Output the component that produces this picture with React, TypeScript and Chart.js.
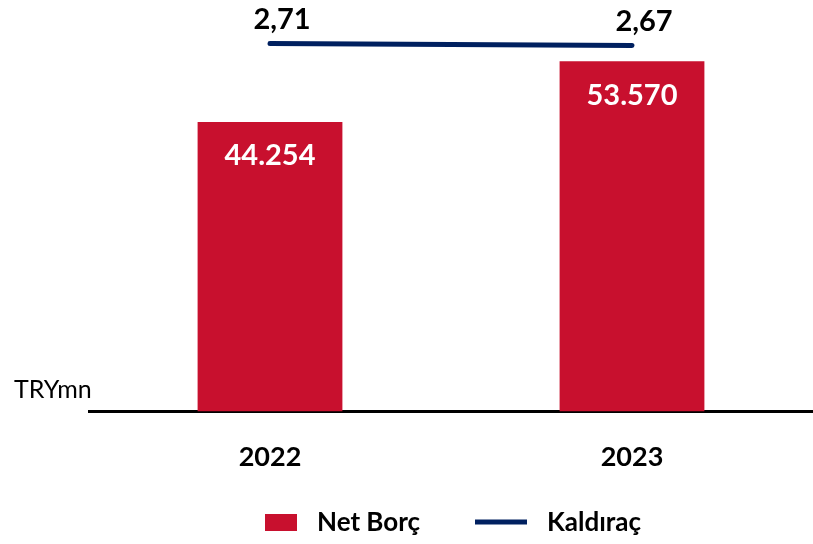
import React, { useEffect, useRef } from "react";
import { Chart, registerables } from "chart.js";

Chart.register(...registerables);

const categories = ["2022", "2023"];
const netBorc = [44254, 53570];
const kaldirac = [2.71, 2.67];
const netBorcLabels = ["44.254", "53.570"];
const kaldiracLabels = ["2,71", "2,67"];
const seriesNames = ["Net Borç", "Kaldıraç"];
const unitLabel = "TRYmn";

const RED = "#C8102E";
const NAVY = "#002060";
const FONT = "Lato, 'Open Sans', sans-serif";

const labelsPlugin = {
  id: "customLabels",
  afterDatasetsDraw(chart: any) {
    const ctx = chart.ctx;
    ctx.save();
    const barMeta = chart.getDatasetMeta(0);
    ctx.fillStyle = "#ffffff";
    ctx.font = `bold 29px ${FONT}`;
    ctx.textAlign = "center";
    ctx.textBaseline = "middle";
    barMeta.data.forEach((el: any, i: number) => {
      ctx.fillText(netBorcLabels[i], el.x, el.y + 34);
    });
    const lineMeta = chart.getDatasetMeta(1);
    ctx.fillStyle = "#000000";
    lineMeta.data.forEach((el: any, i: number) => {
      ctx.fillText(kaldiracLabels[i], el.x + 12, el.y - 24);
    });
    ctx.font = `25px ${FONT}`;
    ctx.textAlign = "left";
    ctx.fillText(unitLabel, 14, 390);
    ctx.fillStyle = RED;
    ctx.fillRect(265, 514, 32, 17);
    ctx.fillStyle = "#000000";
    ctx.font = `bold 26px ${FONT}`;
    ctx.fillText(seriesNames[0], 317, 523);
    ctx.strokeStyle = NAVY;
    ctx.lineWidth = 5;
    ctx.beginPath();
    ctx.moveTo(475, 522);
    ctx.lineTo(527, 522);
    ctx.stroke();
    ctx.fillText(seriesNames[1], 547, 523);
    ctx.restore();
  },
};

export default function App() {
  const ref = useRef<HTMLCanvasElement>(null);
  useEffect(() => {
    if (!ref.current) return;
    const chart = new Chart(ref.current, {
      type: "bar",
      data: {
        labels: categories,
        datasets: [
          {
            type: "bar",
            label: seriesNames[0],
            data: netBorc,
            backgroundColor: RED,
            categoryPercentage: 1,
            barPercentage: 0.4,
            yAxisID: "y",
            order: 2,
          },
          {
            type: "line",
            label: seriesNames[1],
            data: kaldirac,
            borderColor: NAVY,
            borderWidth: 5,
            borderCapStyle: "round",
            pointRadius: 0,
            tension: 0,
            yAxisID: "y1",
            order: 1,
          } as any,
        ],
      },
      options: {
        animation: false,
        responsive: true,
        maintainAspectRatio: false,
        layout: { padding: { left: 89, right: 0, top: 6, bottom: 50 } },
        plugins: { legend: { display: false }, tooltip: { enabled: false } },
        scales: {
          x: {
            grid: { display: false },
            border: { display: true, color: "#000000", width: 3 },
            ticks: {
              color: "#000000",
              font: { family: FONT, size: 27, weight: "bold" },
              padding: 21,
            },
          },
          y: { display: false, min: 0, max: 62000 },
          y1: { display: false, min: -4.64, max: 3.46 },
        },
      },
      plugins: [labelsPlugin],
    });
    return () => chart.destroy();
  }, []);
  return (
    <div style={{ position: "fixed", left: 0, top: 0, width: 813, height: 544, background: "#fff" }}>
      <canvas ref={ref} />
    </div>
  );
}
